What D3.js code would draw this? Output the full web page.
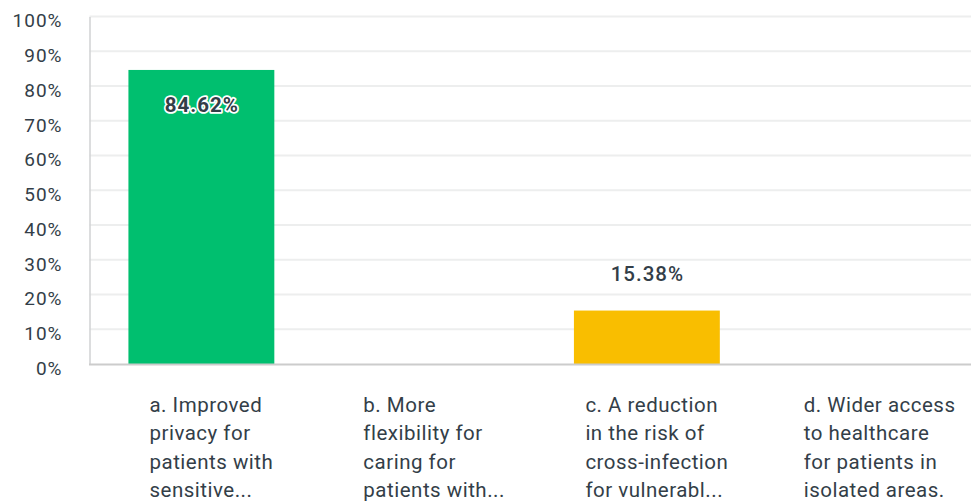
<!DOCTYPE html>
<html>
<head>
<meta charset="utf-8">
<script src="https://cdn.jsdelivr.net/npm/d3@7/dist/d3.min.js"></script>
<style>
  html, body { margin: 0; padding: 0; background: #fff; }
  svg { display: block; }
  text { font-family: Roboto, "Noto Sans", sans-serif; }
</style>
</head>
<body>
<svg id="chart" width="971" height="502"></svg>
<script>
const categories = ["a", "b", "c", "d"];
const labelLines = [
  ["a. Improved", "privacy for", "patients with", "sensitive..."],
  ["b. More", "flexibility for", "caring for", "patients with..."],
  ["c. A reduction", "in the risk of", "cross-infection", "for vulnerabl..."],
  ["d. Wider access", "to healthcare", "for patients in", "isolated areas."]
];
const values = [84.62, 0, 15.38, 0];
const colors = ["#00BF6F", "#6BC8CD", "#F9BE00", "#507CB6"];
const yTicks = [0, 10, 20, 30, 40, 50, 60, 70, 80, 90, 100];

const svg = d3.select("#chart");
const textColor = "#333E48";
const x0 = 89.5, x1 = 981, yTop = 16.5, yBase = 364;

const x = d3.scaleBand().domain(categories).range([90, x1])
  .paddingInner(0.345).paddingOuter(0.1725);
const y = d3.scaleLinear().domain([0, 100]).range([yBase, yTop]);

// gridlines
svg.append("g").selectAll("line").data(yTicks.filter(t => t > 0)).join("line")
  .attr("x1", x0).attr("x2", 971)
  .attr("y1", d => y(d)).attr("y2", d => y(d))
  .attr("stroke", "#EDEEEE").attr("stroke-width", 2);

// y axis
const yAxis = d3.axisLeft(y).tickValues(yTicks).tickFormat(d => d + "%").tickSize(0).tickPadding(27);
const gy = svg.append("g").attr("transform", `translate(${x0},0)`).call(yAxis);
gy.select(".domain").attr("stroke", "#D0D2D3").attr("stroke-width", 1.5);
gy.selectAll("text").attr("font-size", 19).attr("fill", textColor).attr("dy", "0.55em")
  .attr("letter-spacing", 1).attr("font-weight", 400)
  .attr("font-family", "Roboto, sans-serif");

// bars
svg.append("g").selectAll("rect").data(categories).join("rect")
  .attr("x", d => x(d)).attr("width", x.bandwidth())
  .attr("y", (d, i) => y(values[i])).attr("height", (d, i) => yBase - y(values[i]))
  .attr("fill", (d, i) => colors[i]);

// baseline
svg.append("line").attr("x1", x0 - 0.5).attr("x2", 971).attr("y1", yBase + 0.5).attr("y2", yBase + 0.5)
  .attr("stroke", "#CCCCCC").attr("stroke-width", 2);

// value labels
categories.forEach((c, i) => {
  const v = values[i];
  if (v <= 0) return;
  const cx = x(c) + x.bandwidth() / 2;
  const inside = v > 50;
  const t = svg.append("text")
    .attr("x", cx + 0.5)
    .attr("y", inside ? y(v) + 42 : y(v) - 30)
    .attr("text-anchor", "middle")
    .attr("font-size", 20.5)
    .attr("letter-spacing", 1)
    .attr("font-weight", inside ? 700 : 500)
    .attr("fill", textColor)
    .text(v.toFixed(2) + "%");
  if (inside) {
    t.attr("stroke", "#fff").attr("stroke-width", 3.5).attr("paint-order", "stroke")
      .attr("stroke-linejoin", "round");
  }
});

// x labels
categories.forEach((c, i) => {
  const cx = x(c) + x.bandwidth() / 2;
  const g = svg.append("g");
  const t = g.append("text").attr("font-size", 20.5).attr("fill", textColor)
    .attr("letter-spacing", 0.5).attr("font-weight", 400);
  labelLines[i].forEach((line, j) => {
    t.append("tspan").attr("x", 0).attr("y", 412 + j * 28.3).text(line);
  });
  const w = t.node().getBBox().width;
  g.attr("transform", `translate(${cx + 10 - w / 2},0)`);
});
</script>
</body>
</html>
